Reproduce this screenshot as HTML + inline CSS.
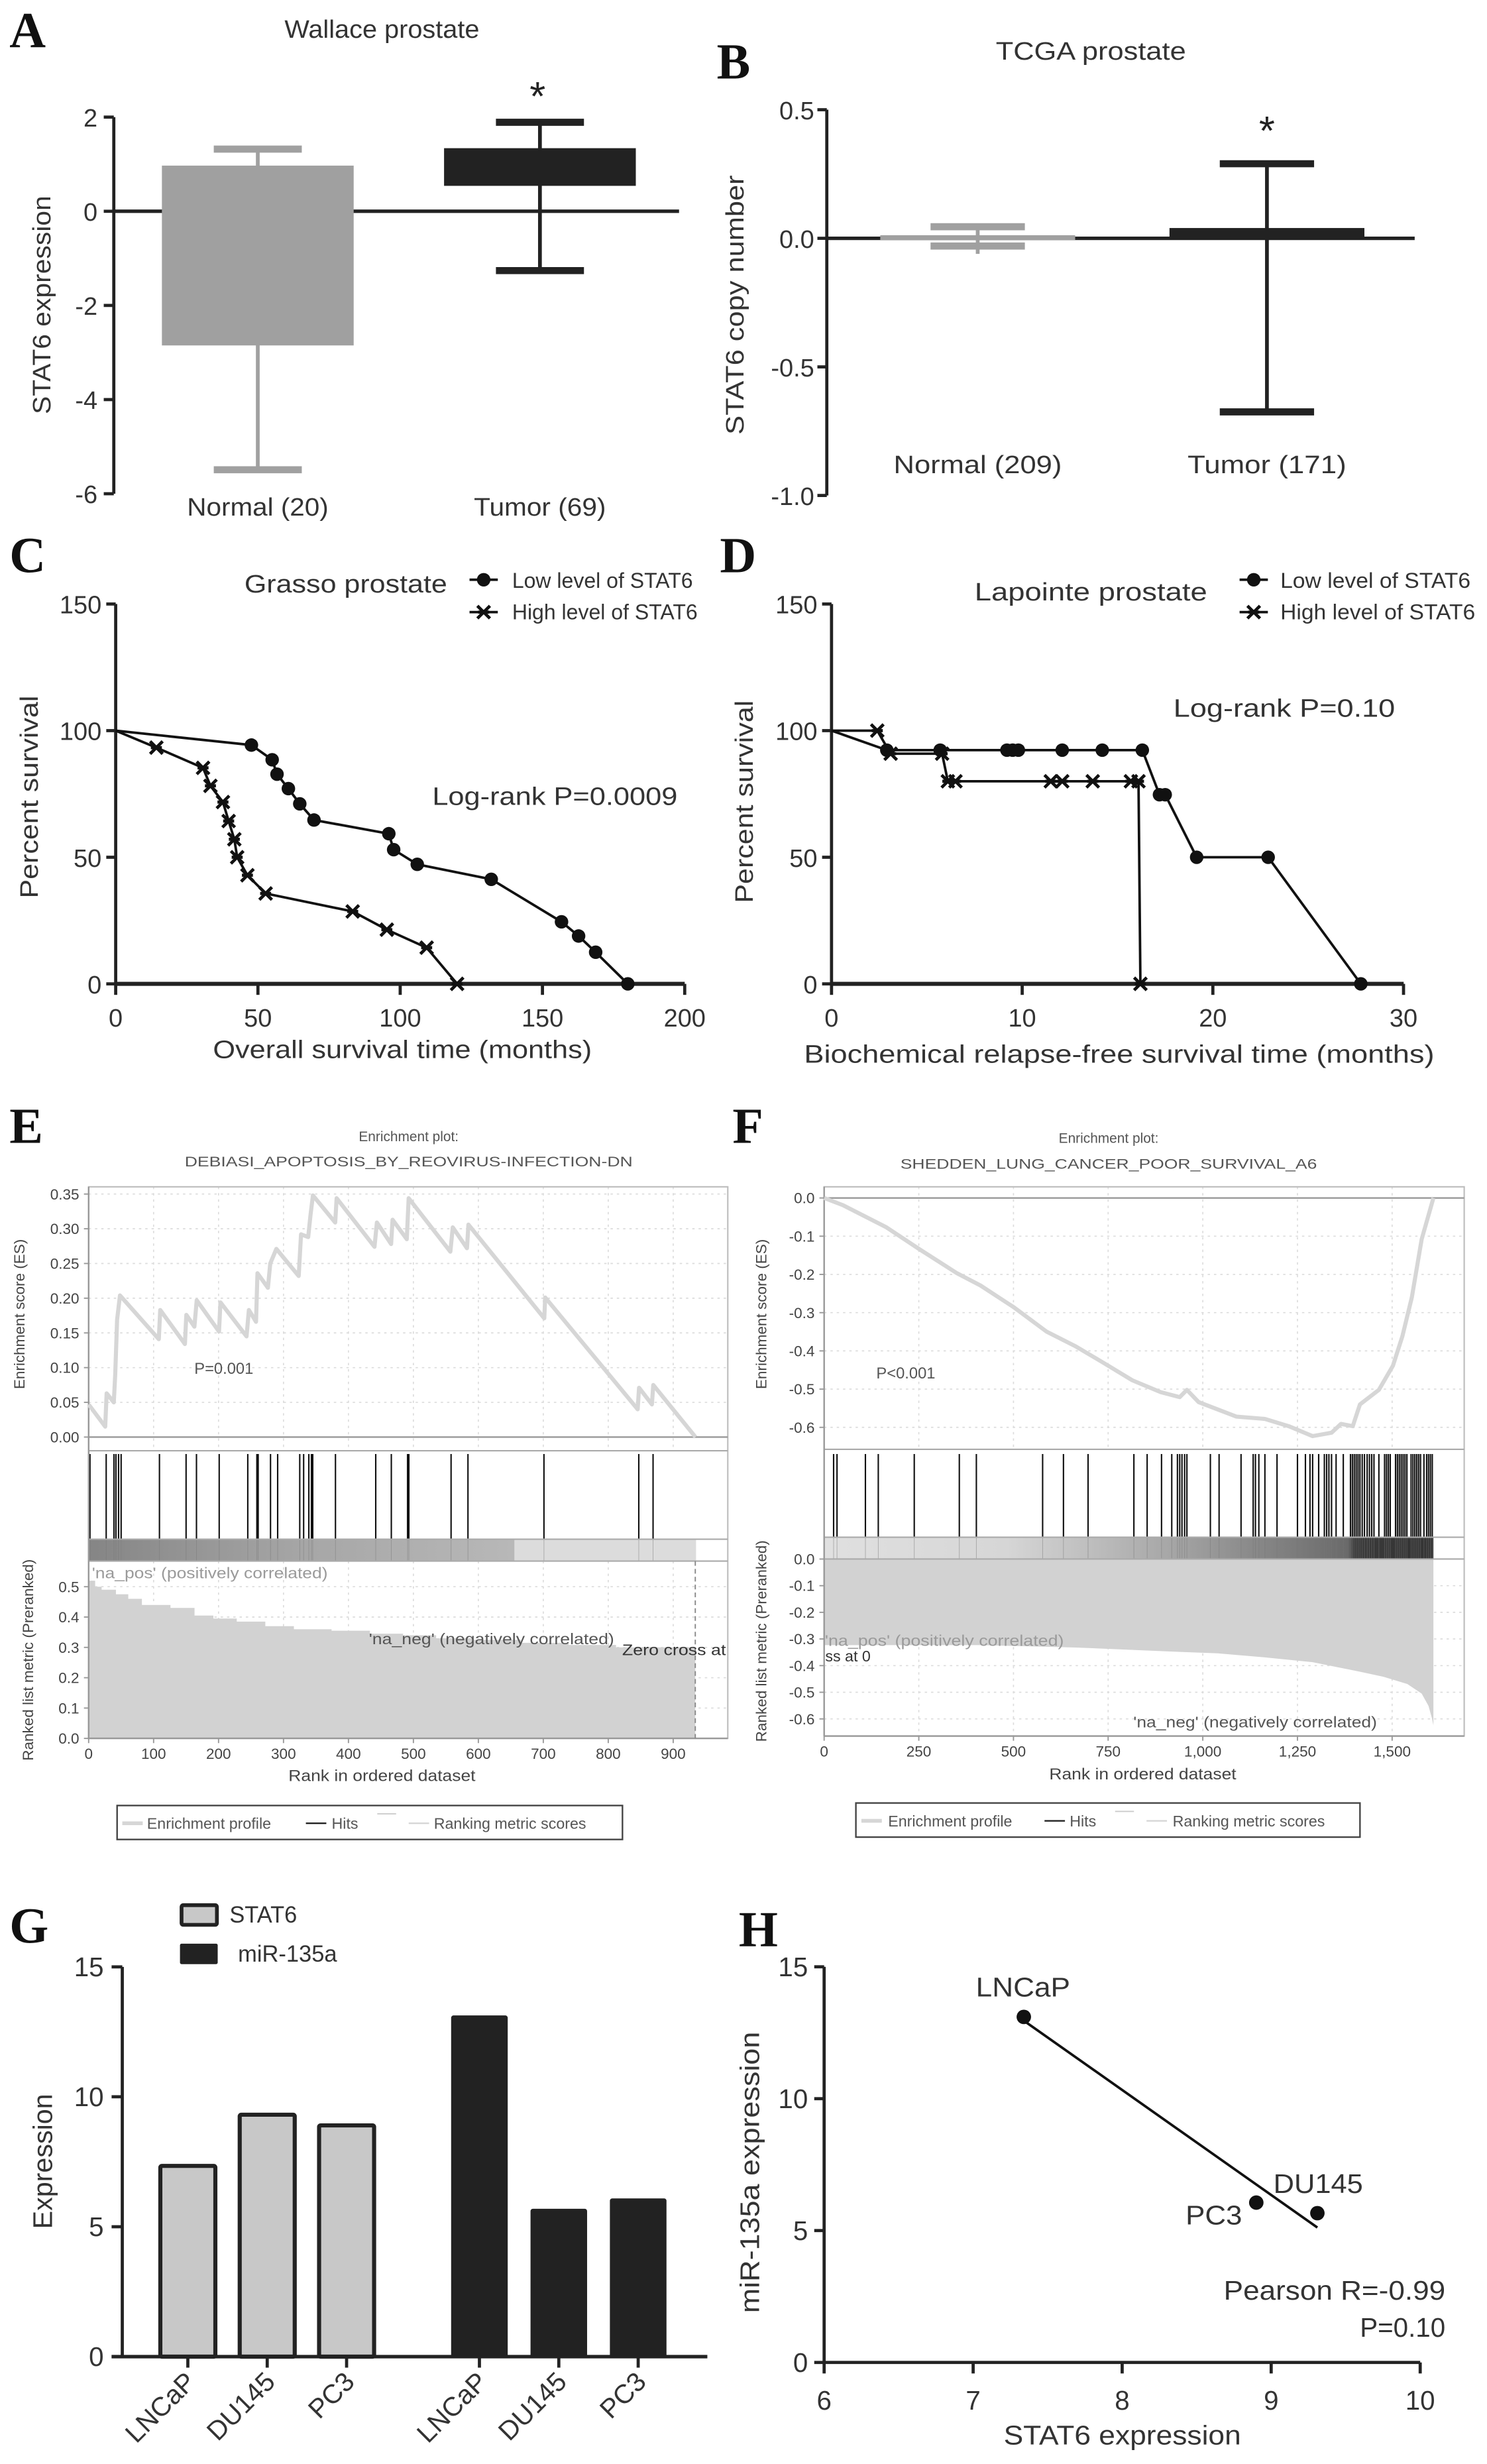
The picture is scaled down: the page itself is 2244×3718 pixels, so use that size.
<!DOCTYPE html>
<html><head><meta charset="utf-8"><title>STAT6 figure</title>
<style>
html,body{margin:0;padding:0;background:#fff;}
svg{display:block;font-family:"Liberation Sans",Arial,sans-serif;}
.pl{font-family:"Liberation Serif","Times New Roman",serif;font-weight:bold;font-size:32px;fill:#111;}
</style></head>
<body>
<svg id="fig" xmlns="http://www.w3.org/2000/svg" width="2244" height="3718" viewBox="0 0 946 1567.5" preserveAspectRatio="none">
<rect x="0" y="0" width="946" height="1567.5" fill="#fff"/>
<defs>
<linearGradient id="gE" x1="0" x2="1" y1="0" y2="0"><stop offset="0" stop-color="#858585"/><stop offset="0.5" stop-color="#a6a6a6"/><stop offset="1" stop-color="#b8b8b8"/></linearGradient>
<linearGradient id="gF" x1="0" x2="1" y1="0" y2="0"><stop offset="0" stop-color="#e0e0e0"/><stop offset="0.3" stop-color="#d6d6d6"/><stop offset="0.56" stop-color="#a8a8a8"/><stop offset="0.7" stop-color="#8a8a8a"/><stop offset="0.86" stop-color="#6a6a6a"/><stop offset="0.87" stop-color="#3a3a3a"/><stop offset="1" stop-color="#333"/></linearGradient>
</defs>
<text class="pl" x="6" y="30">A</text>
<text class="pl" x="456" y="50">B</text>
<text class="pl" x="6" y="364">C</text>
<text class="pl" x="458" y="364">D</text>
<text class="pl" x="6" y="727">E</text>
<text class="pl" x="466" y="727">F</text>
<text class="pl" x="6" y="1236">G</text>
<text class="pl" x="470" y="1238">H</text>
</svg>
<script>
const NS='http://www.w3.org/2000/svg';
const svg=document.getElementById('fig');
function mk(tag,attrs,parent){const e=document.createElementNS(NS,tag);for(const k in attrs)e.setAttribute(k,attrs[k]);(parent||svg).appendChild(e);return e;}
function tx(str,x,y,size,anchor,fill,extra){const a={x:x,y:y,'font-size':size,'text-anchor':anchor||'start',fill:fill||'#222'};if(extra)for(const k in extra)a[k]=extra[k];const e=mk('text',a);e.textContent=str;return e;}

/* ---------- Panel A data ---------- */
const aCats=['Normal (20)','Tumor (69)'];
const aBoxLow=[-2.85,0.54];
const aBoxHigh=[0.97,1.34];
const aWhiskLow=[-5.49,-1.26];
const aWhiskHigh=[1.32,1.89];
const aTicks=[2,0,-2,-4,-6];
/* ---------- Panel B data ---------- */
const bCats=['Normal (209)','Tumor (171)'];
const bBoxLow=[-0.005,0.0];
const bBoxHigh=[0.012,0.04];
const bWhiskLow=[-0.03,-0.675];
const bWhiskHigh=[0.045,0.29];
const bTicks=[0.5,0.0,-0.5,-1.0];
const bTickLabels=['0.5','0.0','-0.5','-1.0'];
/* ---------- Panel C data ---------- */
const cLowT=[0,47.7,55,56.7,60.7,64.7,69.7,96,97.7,106,132,156.7,162.7,168.7,180];
const cLowS=[100,94.3,88.5,82.8,77.1,71.1,64.7,59.3,53,47.2,41.3,24.5,18.9,12.5,0];
const cHighT=[0,14.3,30.7,33.3,37.7,39.7,41.7,42.7,46.3,52.7,83.3,95.3,109.3,120];
const cHighS=[100,93.3,85.3,78.2,71.8,64.3,57.1,50,42.9,35.7,28.6,21.4,14.3,0];
const cXTicks=[0,50,100,150,200];
const survTicks=[0,50,100,150];
/* ---------- Panel D data ---------- */
const dLowT=[0,2.9,5.7,9.2,9.5,9.8,12.1,14.2,16.3,17.2,17.5,19.15,22.9,27.76];
const dLowS=[100,92.3,92.3,92.3,92.3,92.3,92.3,92.3,92.3,74.7,74.7,50,50,0];
const dHighT=[0,2.4,3.1,5.8,6.1,6.5,11.5,12.1,13.7,15.7,16.1,16.2];
const dHighS=[100,100,90.9,90.9,80,80,80,80,80,80,80,0];
const dXTicks=[0,10,20,30];
/* ---------- Panel E data ---------- */
const eRank=[0,25.5,27.7,38.7,40.9,43.8,48.2,108,110.2,148.2,150.4,162.8,166.4,200.7,202.9,243.1,246.7,257.7,259.9,276,279.6,289,323.4,327,338,341.6,345.3,379.6,381.8,440.1,443.8,465.7,467.9,489.8,492.7,556.9,560.6,582.5,584.7,701.5,702.9,845.3,847.4,867.2,869.3,934.3];
const eES=[0.047,0.015,0.063,0.050,0.090,0.169,0.204,0.141,0.183,0.134,0.176,0.159,0.197,0.152,0.194,0.145,0.183,0.166,0.236,0.215,0.25,0.271,0.232,0.292,0.288,0.32,0.348,0.309,0.344,0.274,0.309,0.278,0.313,0.285,0.344,0.267,0.302,0.272,0.306,0.171,0.201,0.040,0.071,0.047,0.075,0];
const eHits=[2,27,39,42,46,50,109,150,166,201,245,259,261,280,291,325,331,339,343,345,380,442,466,491,493,558,584,701,847,869];
const eMetRank=[0,10,20,42,61,82,126,163,192,228,272,316,374,433,484,535,593,666,739,812,934];
const eMetVal=[0.52,0.50,0.49,0.475,0.46,0.44,0.43,0.405,0.395,0.385,0.37,0.36,0.355,0.345,0.34,0.33,0.325,0.315,0.308,0.30,0.29];
const eESTicks=[0,0.05,0.10,0.15,0.20,0.25,0.30,0.35];
const eESTickLabels=['0.00','0.05','0.10','0.15','0.20','0.25','0.30','0.35'];
const eMetTicks=[0,0.1,0.2,0.3,0.4,0.5];
const eXTicks=[0,100,200,300,400,500,600,700,800,900];
/* ---------- Panel F data ---------- */
const fRank=[0,50,163,250,351,413,501,588,664,739,814,889,939,958,989,1089,1164,1227,1290,1340,1365,1396,1415,1465,1502,1527,1552,1578,1609];
const fES=[0,-0.019,-0.076,-0.133,-0.197,-0.229,-0.286,-0.35,-0.388,-0.432,-0.477,-0.508,-0.521,-0.502,-0.534,-0.572,-0.578,-0.597,-0.623,-0.614,-0.591,-0.597,-0.54,-0.502,-0.439,-0.362,-0.26,-0.108,0];
const fHits=[25,34,109,143,238,357,402,577,632,697,818,853,891,918,933,939,945,952,958,1020,1043,1101,1133,1139,1148,1164,1196,1250,1271,1283,1290,1306,1321,1327,1333,1340,1352,1371,1390,1395,1400,1405,1410,1415,1421,1427,1434,1440,1446,1452,1465,1480,1485,1490,1495,1509,1514,1519,1524,1529,1534,1539,1550,1555,1560,1565,1570,1575,1584,1591,1596,1601,1606];
const fMetRank=[0,413,664,914,1039,1164,1290,1415,1477,1540,1578,1596,1605,1609];
const fMetVal=[-0.323,-0.323,-0.332,-0.347,-0.354,-0.369,-0.387,-0.423,-0.442,-0.469,-0.505,-0.551,-0.597,-0.624];
const fESTicks=[0,-0.1,-0.2,-0.3,-0.4,-0.5,-0.6];
const fESTickLabels=['0.0','-0.1','-0.2','-0.3','-0.4','-0.5','-0.6'];
const fXTicks=[0,250,500,750,1000,1250,1500];
const fXTickLabels=['0','250','500','750','1,000','1,250','1,500'];
/* ---------- Panel G data ---------- */
const gCats=['LNCaP','DU145','PC3'];
const gStat6=[7.34,9.31,8.9];
const gMir=[13.1,5.66,6.06];
const gTicks=[0,5,10,15];
/* ---------- Panel H data ---------- */
const hNames=['LNCaP','DU145','PC3'];
const hStat6=[7.34,9.31,8.9];
const hMir=[13.1,5.66,6.06];
const hXTicks=[6,7,8,9,10];
const hYTicks=[0,5,10,15];

/* ===== Panel A ===== */
const yA=v=>134.4-v*29.95;
const xA=i=>164+i*179.5;
(function(){
  let t=tx('Wallace prostate',243,24,16,'middle','#333',{textLength:124,lengthAdjust:'spacingAndGlyphs'});
  
  
  t=tx('STAT6 expression',0,0,16,'middle','#333',{transform:'translate(32,194) rotate(-90)',textLength:139,lengthAdjust:'spacingAndGlyphs'});
  
  
  let ax=mk('line',{x1:72.4,x2:72.4,y1:yA(2),y2:yA(-6),stroke:'#222','stroke-width':2});
  
  
  aTicks.forEach(v=>{
    const l=mk('line',{x1:66,x2:72.4,y1:yA(v),y2:yA(v),stroke:'#222','stroke-width':2});
    
    
    const s=tx(String(v),62,yA(v)+6,16,'end','#333');
    
    
  });
  const z=mk('line',{x1:72.4,x2:432,y1:yA(0),y2:yA(0),stroke:'#222','stroke-width':2.2});
  
  
  const cols=['#a0a0a0','#222'];
  aCats.forEach((c,i)=>{
    const cx=xA(i);
    const w=mk('line',{x1:cx,x2:cx,y1:yA(aWhiskHigh[i]),y2:yA(aWhiskLow[i]),stroke:cols[i],'stroke-width':2.4});
    
    
    [aWhiskHigh[i],aWhiskLow[i]].forEach(v=>{
      const cp=mk('line',{x1:cx-28,x2:cx+28,y1:yA(v),y2:yA(v),stroke:cols[i],'stroke-width':4.5});
      
      
    });
    const b=mk('rect',{x:cx-61,y:yA(aBoxHigh[i]),width:122,height:yA(aBoxLow[i])-yA(aBoxHigh[i]),fill:cols[i]});
    
    
    const lab=tx(c,cx,328,16,'middle','#333',{textLength:i?84:90,lengthAdjust:'spacingAndGlyphs'});
    
    
  });
  const st=tx('*',342,70,26,'middle','#222');
  
  
})();

/* ===== Panel B ===== */
const yB=v=>151.6-v*163.6;
const xB=i=>622+i*184;
(function(){
  let t=tx('TCGA prostate',694,38,16,'middle','#333',{textLength:121,lengthAdjust:'spacingAndGlyphs'});
  
  
  t=tx('STAT6 copy number',0,0,16,'middle','#333',{transform:'translate(473,194) rotate(-90)',textLength:165,lengthAdjust:'spacingAndGlyphs'});
  
  
  const ax=mk('line',{x1:526,x2:526,y1:yB(0.5),y2:yB(-1),stroke:'#222','stroke-width':2});
  
  
  bTicks.forEach((v,i)=>{
    const l=mk('line',{x1:520,x2:526,y1:yB(v),y2:yB(v),stroke:'#222','stroke-width':2});
    
    
    const s=tx(bTickLabels[i],518,yB(v)+6,16,'end','#333');
    
    
  });
  const z=mk('line',{x1:526,x2:900,y1:yB(0),y2:yB(0),stroke:'#222','stroke-width':2.2});
  
  
  const cols=['#a0a0a0','#222'];
  bCats.forEach((c,i)=>{
    const cx=xB(i);
    const w=mk('line',{x1:cx,x2:cx,y1:yB(bWhiskHigh[i]),y2:yB(bWhiskLow[i])+(i?0:5),stroke:cols[i],'stroke-width':2.4});
    
    
    [bWhiskHigh[i],bWhiskLow[i]].forEach(v=>{
      const cp=mk('line',{x1:cx-30,x2:cx+30,y1:yB(v),y2:yB(v),stroke:cols[i],'stroke-width':4.5});
      
      
    });
    const b=mk('rect',{x:cx-62,y:yB(bBoxHigh[i]),width:124,height:Math.max(3,yB(bBoxLow[i])-yB(bBoxHigh[i])),fill:cols[i]});
    
    
    const lab=tx(c,cx,301,16,'middle','#333',{textLength:i?101:107,lengthAdjust:'spacingAndGlyphs'});
    
    
  });
  const st=tx('*',806,92,26,'middle','#222');
  
  
})();

/* ===== Survival helpers ===== */
const ySurv=p=>625.9-p*1.611;
function marker(kind,x,y,name){
  if(kind==='dot'){
    const c=mk('circle',{cx:x,cy:y,r:4.3,fill:'#111'});
    
    
  } else {
    const g=mk('g',{stroke:'#111','stroke-width':2});
    
    
    mk('line',{x1:x-4,x2:x+4,y1:y-4,y2:y+4},g);
    mk('line',{x1:x-4,x2:x+4,y1:y+4,y2:y-4},g);
    mk('line',{x1:x-3.5,x2:x+3.5,y1:y,y2:y},g);
  }
}
function survPanel(p,xs,ax0,ax1,ticks,T1,S1,T2,S2,skipLowFirst){
  const a=mk('line',{x1:ax0,x2:ax0,y1:ySurv(150),y2:ySurv(0),stroke:'#222','stroke-width':2});
  
  
  survTicks.forEach(v=>{
    const l=mk('line',{x1:ax0-6,x2:ax0,y1:ySurv(v),y2:ySurv(v),stroke:'#222','stroke-width':2});
    
    
    const s=tx(String(v),ax0-9,ySurv(v)+6,16,'end','#333');
    
    
  });
  const b=mk('line',{x1:ax0,x2:ax1,y1:ySurv(0),y2:ySurv(0),stroke:'#222','stroke-width':2.6});
  
  
  ticks.forEach(v=>{
    const l=mk('line',{x1:xs(v),x2:xs(v),y1:ySurv(0),y2:ySurv(0)+7,stroke:'#222','stroke-width':2});
    
    
    const s=tx(String(v),xs(v),653,16,'middle','#333');
    
    
  });
  const l1=mk('polyline',{points:T1.map((t,i)=>xs(t)+','+ySurv(S1[i])).join(' '),fill:'none',stroke:'#111','stroke-width':1.6});
  
  
  const l2=mk('polyline',{points:T2.map((t,i)=>xs(t)+','+ySurv(S2[i])).join(' '),fill:'none',stroke:'#111','stroke-width':1.6});
  
  
  T1.forEach((t,i)=>{if(i>0)marker('dot',xs(t),ySurv(S1[i]),'panel-'+p+'-low-marker');});
  T2.forEach((t,i)=>{if(i>0)marker('x',xs(t),ySurv(S2[i]),'panel-'+p+'-high-marker');});
}
/* ===== Panel C ===== */
const xC=m=>73.6+m*1.81;
survPanel('c',xC,73.6,435.6,cXTicks,cLowT,cLowS,cHighT,cHighS);
(function(){
  let t;
  t=tx('Grasso prostate',220,377,16,'middle','#333',{textLength:129,lengthAdjust:'spacingAndGlyphs'});
  
  
  t=tx('Percent survival',0,0,16,'middle','#333',{transform:'translate(24,507) rotate(-90)',textLength:129,lengthAdjust:'spacingAndGlyphs'});
  
  
  t=tx('Overall survival time (months)',256,673,16,'middle','#333',{textLength:241,lengthAdjust:'spacingAndGlyphs'});
  
  
  t=tx('Log-rank P=0.0009',353,512,16,'middle','#333',{textLength:156,lengthAdjust:'spacingAndGlyphs'});
  
  
})();
/* ===== Panel D ===== */
const xD=m=>529+m*12.13;
survPanel('d',xD,529,893,dXTicks,dLowT,dLowS,dHighT,dHighS);
(function(){
  let t;
  t=tx('Lapointe prostate',694,382,16,'middle','#333',{textLength:148,lengthAdjust:'spacingAndGlyphs'});
  
  
  t=tx('Percent survival',0,0,16,'middle','#333',{transform:'translate(479,510) rotate(-90)',textLength:129,lengthAdjust:'spacingAndGlyphs'});
  
  
  t=tx('Biochemical relapse-free survival time (months)',712,676,16,'middle','#333',{textLength:401,lengthAdjust:'spacingAndGlyphs'});
  
  
  t=tx('Log-rank P=0.10',817,456,16,'middle','#333',{textLength:141,lengthAdjust:'spacingAndGlyphs'});
  
  
})();
/* legends C & D */
[['c',307.7,325.8,118],['d',797.6,814.5,124]].forEach(([p,mx,tx0,w])=>{
  const a=mk('line',{x1:mx-9,x2:mx+9,y1:368.8,y2:368.8,stroke:'#111','stroke-width':1.6});
  
  
  marker('dot',mx,368.8,'panel-'+p+'-legend-low-marker');
  let t=tx('Low level of STAT6',tx0,374,13.5,'start','#333',{textLength:w-3,lengthAdjust:'spacingAndGlyphs'});
  
  
  const b=mk('line',{x1:mx-9,x2:mx+9,y1:389.4,y2:389.4,stroke:'#111','stroke-width':1.6});
  
  
  marker('x',mx,389.4,'panel-'+p+'-legend-high-marker');
  t=tx('High level of STAT6',tx0,394,13.5,'start','#333',{textLength:w,lengthAdjust:'spacingAndGlyphs'});
  
  
});

/* ===== GSEA helpers ===== */
function gsea(p,cfg){
  const {x0,x1,top,esBot,bandTop,bandBot,bot,xs,yES,yM,esTicks,esTickLabels,mTicks,mTickLabels,xTicks,xTickLabels,rank,es,hits,mRank,mVal,grad,hitTop,zeroES,metEnd}=cfg;
  const grid='#dcdcdc';
  esTicks.forEach(v=>{const g=mk('line',{x1:x0,x2:x1,y1:yES(v),y2:yES(v),stroke:grid,'stroke-width':0.7,'stroke-dasharray':'1.5,2.5'});});
  mTicks.forEach(v=>{const g=mk('line',{x1:x0,x2:x1,y1:yM(v),y2:yM(v),stroke:grid,'stroke-width':0.7,'stroke-dasharray':'1.5,2.5'});});
  xTicks.forEach(v=>{
    [[top,esBot],[bandBot,bot]].forEach(([a,b])=>{const g=mk('line',{x1:xs(v),x2:xs(v),y1:a,y2:b,stroke:grid,'stroke-width':0.7,'stroke-dasharray':'1.5,2.5'});});
  });
  /* metric area */
  let d='M'+xs(mRank[0])+','+yM(0);
  if(cfg.step){
    mRank.forEach((r,i)=>{const nx=i<mRank.length-1?mRank[i+1]:metEnd;d+=' L'+xs(r)+','+yM(mVal[i])+' L'+xs(nx)+','+yM(mVal[i]);});
    d+=' L'+xs(metEnd)+','+yM(0)+'Z';
  } else {
    mRank.forEach((r,i)=>{d+=' L'+xs(r)+','+yM(mVal[i]);});
    d+=' L'+xs(mRank[mRank.length-1])+','+yM(0)+'Z';
  }
  const area=mk('path',{d:d,fill:'#d2d2d2',stroke:'none'});
  
  
  /* band */
  const band=mk('rect',{x:x0,y:bandTop,width:cfg.bandSplit-x0,height:bandBot-bandTop,fill:grad});
  
  
  if(cfg.bandLight){const b2=mk('rect',{x:cfg.bandSplit,y:bandTop,width:cfg.bandLight-cfg.bandSplit,height:bandBot-bandTop,fill:'#dcdcdc'});}
  /* hits */
  hits.forEach(r=>{const h=mk('line',{x1:xs(r),x2:xs(r),y1:hitTop,y2:bandTop,stroke:'#111','stroke-width':0.9});});
  hits.forEach(r=>{const h=mk('line',{x1:xs(r),x2:xs(r),y1:bandTop,y2:bandBot,stroke:'#777','stroke-width':0.4,'stroke-opacity':0.5});});
  /* frame and separators */
  const fr=mk('rect',{x:x0,y:top,width:x1-x0,height:bot-top,fill:'none',stroke:'#bdbdbd','stroke-width':0.9});
  
  
  [esBot,bandTop,bandBot].forEach(y=>{const s=mk('line',{x1:x0,x2:x1,y1:y,y2:y,stroke:'#aaa','stroke-width':0.9});});
  const ze=mk('line',{x1:x0,x2:x1,y1:yES(0),y2:yES(0),stroke:'#999','stroke-width':1});
  
  
  const axl=mk('line',{x1:x0,x2:x0,y1:top,y2:bot,stroke:'#999','stroke-width':1});
  
  
  const axb=mk('line',{x1:x0,x2:x1,y1:bot,y2:bot,stroke:'#999','stroke-width':1});
  
  
  /* ES curve */
  const c=mk('polyline',{points:rank.map((r,i)=>xs(r)+','+yES(es[i])).join(' '),fill:'none',stroke:'#d6d6d6','stroke-width':2.6,'stroke-linejoin':'round'});
  
  
  /* ticks */
  esTicks.forEach((v,i)=>{
    const k=mk('line',{x1:x0-3,x2:x0,y1:yES(v),y2:yES(v),stroke:'#999','stroke-width':0.8});
    
    
    const s=tx(esTickLabels[i],x0-6,yES(v)+3.4,9.5,'end','#444');
    
    
  });
  mTicks.forEach((v,i)=>{
    const k=mk('line',{x1:x0-3,x2:x0,y1:yM(v),y2:yM(v),stroke:'#999','stroke-width':0.8});
    
    
    const s=tx(mTickLabels[i],x0-6,yM(v)+3.4,9.5,'end','#444');
    
    
  });
  xTicks.forEach((v,i)=>{
    const k=mk('line',{x1:xs(v),x2:xs(v),y1:bot,y2:bot+3,stroke:'#999','stroke-width':0.8});
    
    
    const s=tx(xTickLabels[i],xs(v),bot+13,9.5,'middle','#444');
    
    
  });
}
/* ===== Panel E ===== */
const xE=r=>56.4+r*0.4132;
const yEs=v=>914.2-v*441.7;
const yEm=v=>1105.9-v*193;
gsea('e',{x0:56.4,x1:463,top:755,esBot:922.9,bandTop:979.2,bandBot:993.1,bot:1105.9,xs:xE,yES:yEs,yM:yEm,
  esTicks:eESTicks,esTickLabels:eESTickLabels,mTicks:eMetTicks,mTickLabels:eMetTicks.map(v=>v.toFixed(1)),
  xTicks:eXTicks,xTickLabels:eXTicks.map(String),rank:eRank,es:eES,hits:eHits,mRank:eMetRank,mVal:eMetVal,
  grad:'url(#gE)',bandSplit:327.3,bandLight:442.8,hitTop:925,step:true,metEnd:934});
(function(){
  const dl=mk('line',{x1:xE(934),x2:xE(934),y1:993.1,y2:1105.9,stroke:'#888','stroke-width':0.8,'stroke-dasharray':'3,2'});
  
  
  let t;
  t=tx('Enrichment plot:',260,726,8.8,'middle','#555');
  
  
  t=tx('DEBIASI_APOPTOSIS_BY_REOVIRUS-INFECTION-DN',260,742,8.8,'middle','#555',{textLength:285,lengthAdjust:'spacingAndGlyphs'});
  
  
  t=tx('P=0.001',142.4,874,10,'middle','#555');
  
  
  t=tx("'na_pos' (positively correlated)",58.5,1004,9.8,'start','#9a9a9a',{textLength:150,lengthAdjust:'spacingAndGlyphs'});
  
  
  t=tx("'na_neg' (negatively correlated)",234.7,1046,9.8,'start','#555',{textLength:156,lengthAdjust:'spacingAndGlyphs'});
  
  
  t=tx('Zero cross at',395.8,1053,9.8,'start','#333',{textLength:66,lengthAdjust:'spacingAndGlyphs'});
  
  
  t=tx('Enrichment score (ES)',0,0,9.5,'middle','#444',{transform:'translate(15.5,836) rotate(-90)'});
  
  
  t=tx('Ranked list metric (Preranked)',0,0,9.5,'middle','#444',{transform:'translate(21,1056) rotate(-90)'});
  
  
  t=tx('Rank in ordered dataset',243,1133,10,'middle','#444',{textLength:119,lengthAdjust:'spacingAndGlyphs'});
  
  
})();
/* ===== Panel F ===== */
const xF=r=>524.3+r*0.2409;
const yFs=v=>762.1-v*243.2;
const yFm=v=>991.8-v*169.5;
gsea('f',{x0:524.3,x1:931.5,top:755,esBot:922,bandTop:977.9,bandBot:991.8,bot:1104.4,xs:xF,yES:yFs,yM:yFm,
  esTicks:fESTicks,esTickLabels:fESTickLabels,mTicks:fESTicks,mTickLabels:fESTickLabels,
  xTicks:fXTicks,xTickLabels:fXTickLabels,rank:fRank,es:fES,hits:fHits,mRank:fMetRank,mVal:fMetVal,
  grad:'url(#gF)',bandSplit:xF(1609),bandLight:0,hitTop:925,step:false,metEnd:1609});
(function(){
  let t;
  t=tx('Enrichment plot:',705.3,727,8.8,'middle','#555');
  
  
  t=tx('SHEDDEN_LUNG_CANCER_POOR_SURVIVAL_A6',705.3,743.5,8.8,'middle','#555',{textLength:265,lengthAdjust:'spacingAndGlyphs'});
  
  
  t=tx('P<0.001',557.5,877,10,'start','#555');
  
  
  t=tx("'na_pos' (positively correlated)",524.8,1047,9.8,'start','#9a9a9a',{textLength:152,lengthAdjust:'spacingAndGlyphs'});
  
  
  t=tx('ss at 0',525,1057,9.8,'start','#333');
  
  
  t=tx("'na_neg' (negatively correlated)",721,1099,9.8,'start','#555',{textLength:155,lengthAdjust:'spacingAndGlyphs'});
  
  
  t=tx('Enrichment score (ES)',0,0,9.5,'middle','#444',{transform:'translate(487.5,836) rotate(-90)'});
  
  
  t=tx('Ranked list metric (Preranked)',0,0,9.5,'middle','#444',{transform:'translate(487.5,1044) rotate(-90)'});
  
  
  t=tx('Rank in ordered dataset',727,1132,10,'middle','#444',{textLength:119,lengthAdjust:'spacingAndGlyphs'});
  
  
})();
/* GSEA legends */
[['e',74.5,396,1148.6,1170.2,77.8,93.5,194.6,211,260,276],['f',544.5,865.2,1147,1168.7,548,565,664.5,680.5,729.4,746]].forEach(([p,bx0,bx1,by0,by1,s1,t1,s2,t2,s3,t3])=>{
  const bx=mk('rect',{x:bx0,y:by0,width:bx1-bx0,height:by1-by0,fill:'#fff',stroke:'#444','stroke-width':1});
  
  
  const yy=(by0+by1)/2+0.5;
  let l=mk('line',{x1:s1,x2:s1+13,y1:yy,y2:yy,stroke:'#d6d6d6','stroke-width':2.4});
  
  
  let t=tx('Enrichment profile',t1,yy+3.5,9.8,'start','#555');
  
  
  l=mk('line',{x1:s2,x2:s2+13,y1:yy,y2:yy,stroke:'#222','stroke-width':1});
  
  
  t=tx('Hits',t2,yy+3.5,9.8,'start','#555');
  
  
  l=mk('line',{x1:s3-20,x2:s3-8,y1:yy-6,y2:yy-6,stroke:'#ccc','stroke-width':0.8});
  
  
  l=mk('line',{x1:s3,x2:s3+13,y1:yy,y2:yy,stroke:'#d6d6d6','stroke-width':1});
  
  
  t=tx('Ranking metric scores',t3,yy+3.5,9.8,'start','#555');
  
  
});

/* ===== Panel G ===== */
const yG=v=>1499.2-v*16.53;
const xG=(grp,i)=>119.5+i*50.5+grp*185.5;
(function(){
  const ax=mk('line',{x1:77.8,x2:77.8,y1:yG(15),y2:yG(0),stroke:'#222','stroke-width':2});
  
  
  gTicks.forEach(v=>{
    const l=mk('line',{x1:71,x2:77.8,y1:yG(v),y2:yG(v),stroke:'#222','stroke-width':2});
    
    
    const s=tx(String(v),66,yG(v)+6,17,'end','#333');
    
    
  });
  let t=tx('Expression',0,0,17,'middle','#333',{transform:'translate(33,1375) rotate(-90)',textLength:86,lengthAdjust:'spacingAndGlyphs'});
  
  
  [gStat6,gMir].forEach((arr,grp)=>{
    arr.forEach((v,i)=>{
      const cx=xG(grp,i);
      const b=mk('rect',{x:cx-17.5,y:yG(v),width:35,height:yG(0)-yG(v),fill:grp?'#222':'#c8c8c8',stroke:'#222','stroke-width':grp?1:2.6,rx:1});
      
      
      const k=mk('line',{x1:cx,x2:cx,y1:yG(0),y2:yG(0)+7,stroke:'#222','stroke-width':2});
      
      
      const s=tx(gCats[i],0,0,17,'end','#333',{transform:'translate('+(cx+6)+','+(yG(0)+17)+') rotate(-45)'});
      
      
    });
  });
  const xa=mk('line',{x1:71,x2:450,y1:yG(0),y2:yG(0),stroke:'#222','stroke-width':2.2});
  
  
  let r=mk('rect',{x:115.5,y:1212,width:22.5,height:12.5,fill:'#c8c8c8',stroke:'#222','stroke-width':2.4,rx:1});
  
  
  t=tx('STAT6',146,1223,15,'start','#333',{textLength:43,lengthAdjust:'spacingAndGlyphs'});
  
  
  r=mk('rect',{x:114.5,y:1236.5,width:24,height:13,fill:'#222',rx:1});
  
  
  t=tx('miR-135a',151.4,1248,15,'start','#333',{textLength:63,lengthAdjust:'spacingAndGlyphs'});
  
  
})();

/* ===== Panel H ===== */
const xH=v=>524.3+(v-6)*94.8;
const yH=v=>1502.9-v*16.78;
(function(){
  const ax=mk('line',{x1:524.3,x2:524.3,y1:yH(15),y2:yH(0),stroke:'#222','stroke-width':2});
  
  
  const xa=mk('line',{x1:524.3,x2:xH(10),y1:yH(0),y2:yH(0),stroke:'#222','stroke-width':2});
  
  
  hYTicks.forEach(v=>{
    const l=mk('line',{x1:518,x2:524.3,y1:yH(v),y2:yH(v),stroke:'#222','stroke-width':2});
    
    
    const s=tx(String(v),514,yH(v)+6,17,'end','#333');
    
    
  });
  hXTicks.forEach(v=>{
    const l=mk('line',{x1:xH(v),x2:xH(v),y1:yH(0),y2:yH(0)+7,stroke:'#222','stroke-width':2});
    
    
    const s=tx(String(v),xH(v),1533,17,'middle','#333');
    
    
  });
  /* least-squares regression from data */
  const n=hStat6.length;
  const mx=hStat6.reduce((a,b)=>a+b,0)/n, my=hMir.reduce((a,b)=>a+b,0)/n;
  let sxy=0,sxx=0;for(let i=0;i<n;i++){sxy+=(hStat6[i]-mx)*(hMir[i]-my);sxx+=(hStat6[i]-mx)**2;}
  const sl=sxy/sxx;
  const xmin=Math.min(...hStat6),xmax=Math.max(...hStat6);
  const rl=mk('line',{x1:xH(xmin),y1:yH(my+sl*(xmin-mx)),x2:xH(xmax),y2:yH(my+sl*(xmax-mx)),stroke:'#111','stroke-width':1.6});
  
  
  hNames.forEach((nm,i)=>{
    const c=mk('circle',{cx:xH(hStat6[i]),cy:yH(hMir[i]),r:4.6,fill:'#111'});
    
    
  });
  let t;
  t=tx('LNCaP',xH(hStat6[0])-0.5,1270,17,'middle','#333',{textLength:60,lengthAdjust:'spacingAndGlyphs'});
  
  
  t=tx('DU145',xH(hStat6[1])+0.5,1395,17,'middle','#333',{textLength:57,lengthAdjust:'spacingAndGlyphs'});
  
  
  t=tx('PC3',xH(hStat6[2])-9,1415,17,'end','#333',{textLength:36,lengthAdjust:'spacingAndGlyphs'});
  
  
  t=tx('Pearson R=-0.99',919.5,1463,17,'end','#333',{textLength:141,lengthAdjust:'spacingAndGlyphs'});
  
  
  t=tx('P=0.10',919.5,1486.5,17,'end','#333');
  
  
  t=tx('STAT6 expression',714,1555,17,'middle','#333',{textLength:151,lengthAdjust:'spacingAndGlyphs'});
  
  
  t=tx('miR-135a expression',0,0,17,'middle','#333',{transform:'translate(483,1382) rotate(-90)',textLength:179,lengthAdjust:'spacingAndGlyphs'});
  
  
})();
</script>
</body></html>
